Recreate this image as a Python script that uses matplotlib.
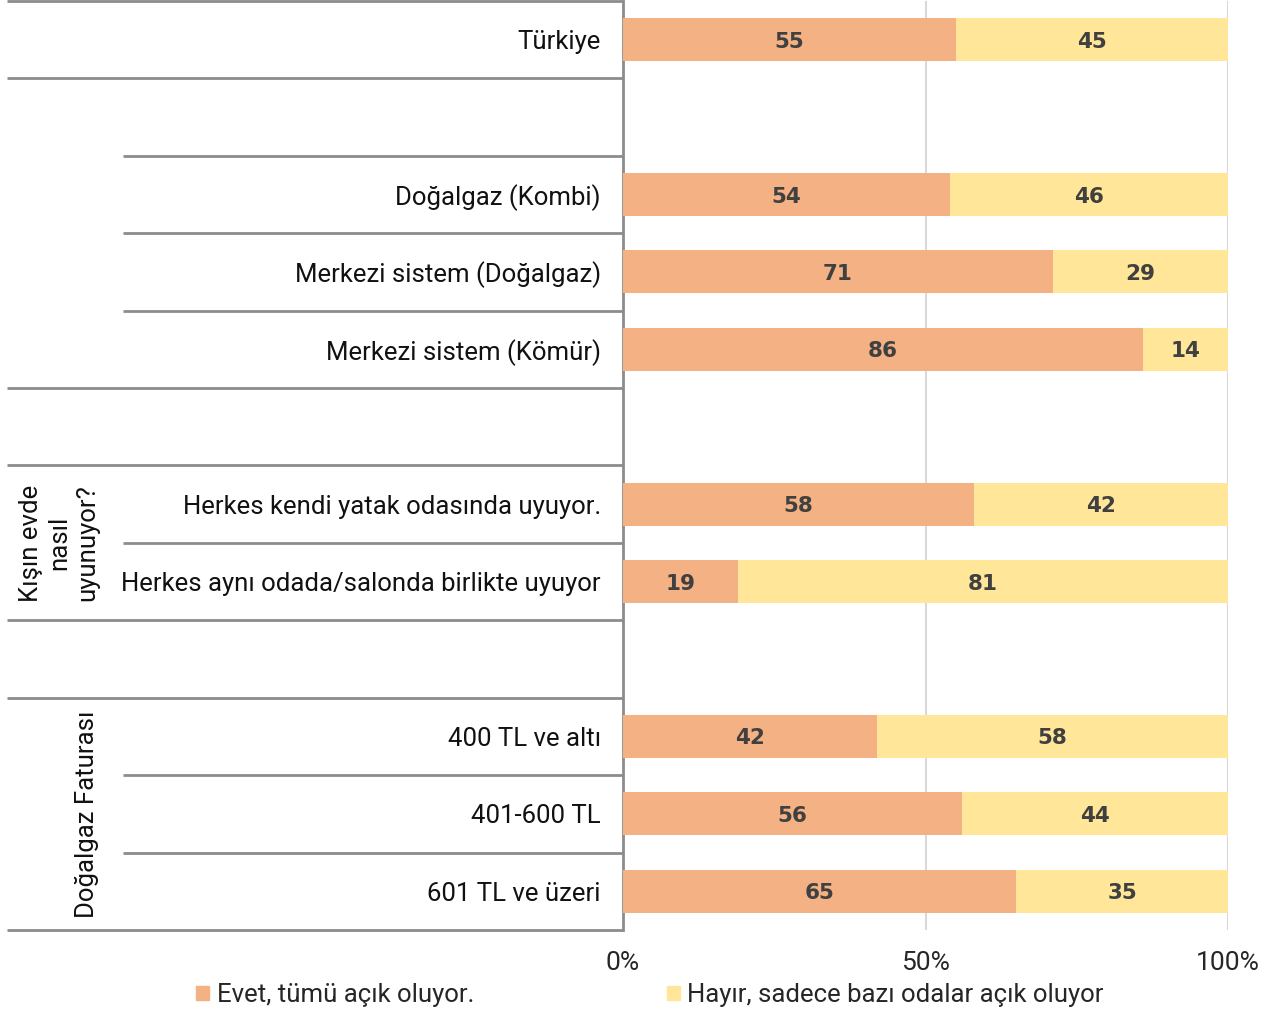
import numpy as np
import matplotlib
matplotlib.use("Agg")
import matplotlib.pyplot as plt
from matplotlib.patches import Patch
from matplotlib import font_manager as fm

avail = {f.name for f in fm.fontManager.ttflist}
FONT = "Liberation Sans Narrow" if "Liberation Sans Narrow" in avail else "Roboto"
plt.rcParams["font.family"] = [FONT, "DejaVu Sans"]

# ---- data ----
rows = ["Türkiye", "", "Doğalgaz (Kombi)", "Merkezi sistem (Doğalgaz)",
        "Merkezi sistem (Kömür)", "", "Herkes kendi yatak odasında uyuyor.",
        "Herkes aynı odada/salonda birlikte uyuyor", "", "400 TL ve altı",
        "401-600 TL", "601 TL ve üzeri"]
evet = [55, np.nan, 54, 71, 86, np.nan, 58, 19, np.nan, 42, 56, 65]
hayir = [45, np.nan, 46, 29, 14, np.nan, 42, 81, np.nan, 58, 44, 35]
series_names = ["Evet, tümü açık oluyor.", "Hayır, sadece bazı odalar açık oluyor"]
group_labels = ["", "", "", "Kışın evde\nnasıl\nuyunuyor?", "", "Doğalgaz Faturası"]
group_starts = [0, 1, 5, 6, 8, 9]
group_ends = [1, 5, 6, 8, 9, 12]
xticks = [0, 50, 100]
xticklabels = ["0%", "50%", "100%"]

C_EVET = "#F4B183"
C_HAYIR = "#FFE699"
LINE = "#8C8C8C"

W, H = 1284, 1014
fig = plt.figure(figsize=(W / 100, H / 100), dpi=100)
ax = fig.add_axes([623 / W, 1 - 930 / H, (1228 - 623) / W, (930 - 1) / H])

n = len(rows)
y = np.arange(n) + 0.5
ev = np.array(evet, dtype=float)
ha_ = np.array(hayir, dtype=float)
b1 = ax.barh(y, ev, height=0.555, color=C_EVET, zorder=3)
b2 = ax.barh(y, ha_, left=ev, height=0.555, color=C_HAYIR, zorder=3)
lab1 = ["" if np.isnan(v) else f"{int(v)}" for v in ev]
lab2 = ["" if np.isnan(v) else f"{int(v)}" for v in ha_]
for cont, labs in ((b1, lab1), (b2, lab2)):
    txts = ax.bar_label(cont, labels=labs, label_type="center", color="#404040",
                        fontsize=15.5, fontweight="bold", family=["DejaVu Sans"])
    for t in txts:
        t.set_va("center_baseline")

ax.set_xlim(0, 100)
ax.set_ylim(n, 0)
ax.set_xticks(xticks)
ax.set_xticklabels(xticklabels, fontsize=19, color="#262626")
ax.set_yticks(y)
ax.set_yticklabels(rows, fontsize=18.5, color="#111111")
ax.tick_params(axis="y", length=0, pad=16)
ax.tick_params(axis="x", length=0, pad=15)
for t in ax.get_yticklabels():
    t.set_ha("right")
ax.xaxis.grid(True, color="#D9D9D9", linewidth=1.5, zorder=0)
ax.set_axisbelow(True)
for s in ["top", "right", "bottom"]:
    ax.spines[s].set_visible(False)
ax.spines["left"].set_color(LINE)
ax.spines["left"].set_linewidth(2)

# category grid lines in the label area
tr = ax.get_yaxis_transform()
x_far = (7 - 623) / (1228 - 623)
x_near = (123 - 623) / (1228 - 623)
boundaries_long = set(group_starts) | set(group_ends)
for b in range(n + 1):
    x0 = x_far if b in boundaries_long else x_near
    ax.plot([x0, 0], [b, b], color=LINE, lw=2, transform=tr, clip_on=False,
            solid_capstyle="butt")

x_grp = (99 - 623) / (1228 - 623)
for lab, s, e in zip(group_labels, group_starts, group_ends):
    if lab:
        ax.text(x_grp, (s + e) / 2, lab, transform=tr, rotation=90,
                ha="right", va="center", fontsize=18.5, color="#111111",
                linespacing=1.2, multialignment="center")

handles = [Patch(color=C_EVET), Patch(color=C_HAYIR)]
fig.legend(handles, series_names, loc="center", bbox_to_anchor=(650 / W, 1 - 995 / H),
           ncol=2, frameon=False, fontsize=18.5, handlelength=0.5, handleheight=0.5,
           handletextpad=0.3, columnspacing=7.5, labelcolor="#262626")

fig.savefig("out.png", dpi=100)
